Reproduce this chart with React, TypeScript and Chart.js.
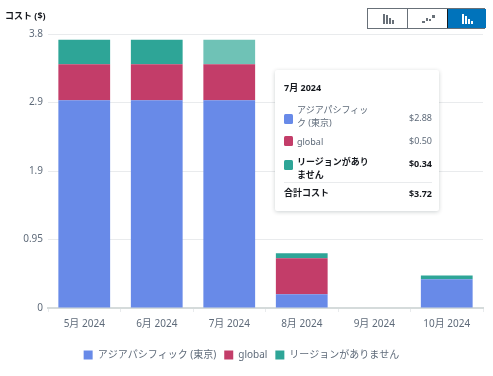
import React, { useEffect, useRef } from "react";
import { Chart, registerables } from "chart.js";

Chart.register(...registerables);

const categories = ["5月 2024", "6月 2024", "7月 2024", "8月 2024", "9月 2024", "10月 2024"];
const apacValues = [2.88, 2.88, 2.88, 0.19, 0, 0.4];
const globalValues = [0.5, 0.5, 0.5, 0.5, 0, 0];
const noRegionValues = [0.34, 0.34, 0.34, 0.07, 0, 0.05];
const seriesNames = ["アジアパシフィック (東京)", "global", "リージョンがありません"];
const yTickValues = [0, 0.95, 1.9, 2.85, 3.8];
const yTickLabels = ["0", "0.95", "1.9", "2.9", "3.8"];
const tooltipTitle = "7月 2024";
const tooltipValues = ["$2.88", "$0.50", "$0.34"];
const tooltipTotalLabel = "合計コスト";
const tooltipTotal = "$3.72";
const axisTitle = "コスト ($)";

const FONT = '"Noto Sans", "Noto Sans CJK JP", sans-serif';
const BLUE = "#688ae8";
const RED = "#c33d69";
const GREEN = "#2ea597";
const GREEN_FADED = "#6fc2b6";
const TEXT = "#5f6b7a";
const DARK = "#16191f";

const abs = (left: number, top: number, extra: React.CSSProperties = {}): React.CSSProperties => ({
  position: "absolute",
  left,
  top,
  ...extra,
});

function Swatch({ top, color }: { top: number; color: string }) {
  return <div style={abs(9, top, { width: 9, height: 10, background: color, borderRadius: 1.5 })} />;
}

export default function App() {
  const ref = useRef<HTMLCanvasElement | null>(null);

  useEffect(() => {
    const chart = new Chart(ref.current!, {
      type: "bar",
      data: {
        labels: categories,
        datasets: [
          { label: seriesNames[0], data: apacValues, backgroundColor: BLUE },
          { label: seriesNames[1], data: globalValues, backgroundColor: RED },
          {
            label: seriesNames[2],
            data: noRegionValues,
            backgroundColor: categories.map((_, i) => (i === 2 ? GREEN_FADED : GREEN)),
          },
        ],
      },
      options: {
        animation: false,
        responsive: false,
        events: [],
        layout: { padding: { top: 34, right: 10, bottom: 6, left: 0 } },
        datasets: { bar: { categoryPercentage: 1, barPercentage: 0.714 } },
        scales: {
          x: {
            stacked: true,
            afterFit: (s: any) => { s.height = 34; },
            border: { color: "#d5dbdb", width: 2 },
            grid: { drawOnChartArea: false, drawTicks: true, tickLength: 4, color: "#e9ebed" },
            ticks: { color: TEXT, font: { family: FONT, size: 10 }, padding: 6, maxRotation: 0 },
          },
          y: {
            stacked: true,
            min: 0,
            max: 3.8,
            afterFit: (s: any) => { s.width = 48; },
            afterBuildTicks: (s: any) => { s.ticks = yTickValues.map((value) => ({ value })); },
            border: { display: false },
            grid: { color: "#e9ebed", drawTicks: false, lineWidth: 1 },
            ticks: {
              color: TEXT,
              font: { family: FONT, size: 10 },
              padding: 5,
              callback: (v: any) => yTickLabels[yTickValues.indexOf(v)],
            },
          },
        },
        plugins: {
          tooltip: { enabled: false },
          title: { display: false },
          legend: {
            position: "bottom",
            labels: {
              boxWidth: 9,
              boxHeight: 9,
              color: TEXT,
              padding: 8,
              font: { family: FONT, size: 10 },
            },
          },
        },
      },
    } as any);
    return () => chart.destroy();
  }, []);

  const row: React.CSSProperties = { fontSize: 9, lineHeight: "13px" };
  return (
    <div style={abs(0, 0, { width: 493, height: 376, background: "#fff", fontFamily: FONT, overflow: "hidden" })}>
      <canvas ref={ref} width={493} height={376} style={{ display: "block" }} />
      <div style={abs(5, 9, { fontSize: 9, fontWeight: 700, color: DARK, lineHeight: "13px" })}>{axisTitle}</div>

      <div style={abs(367, 8, { width: 118, height: 21, boxSizing: "border-box", border: "1px solid #687078", display: "flex" })}>
        <div style={{ flex: "0 0 39px", borderRight: "1px solid #687078" }}>
          <svg width="39" height="19" fill="#687078">
            <rect x="15" y="5" width="2" height="10" /><rect x="18" y="6" width="2" height="9" />
            <rect x="21" y="9" width="2" height="6" /><rect x="24" y="11" width="2" height="4" />
          </svg>
        </div>
        <div style={{ flex: "0 0 39px", borderRight: "1px solid #16191f" }}>
          <svg width="39" height="19" fill="#687078">
            <rect x="14" y="12" width="3" height="2" /><rect x="18" y="9" width="2" height="3" />
            <rect x="21" y="10" width="2" height="2" /><rect x="24" y="6" width="3" height="3" />
          </svg>
        </div>
        <div style={{ flex: 1, background: "#0073bb" }}>
          <svg width="38" height="19" fill="#fff">
            <rect x="14" y="5" width="2" height="10" /><rect x="17" y="7" width="2" height="8" />
            <rect x="20" y="10" width="2" height="5" /><rect x="23" y="12" width="2" height="3" />
          </svg>
        </div>
      </div>

      <div style={abs(275, 70, { width: 164, height: 141, background: "#fff", borderRadius: 2, boxShadow: "0 1px 4px rgba(0,28,36,0.2)", color: DARK })}>
        <div style={abs(9, 11, { fontSize: 9, fontWeight: 700, lineHeight: "14px" })}>{tooltipTitle}</div>
        <Swatch top: number={0 as any} top={44} color={BLUE} />
        <div style={abs(22, 33, { ...row, width: 78, color: TEXT })}>{seriesNames[0]}</div>
        <div style={abs(100, 41, { ...row, width: 57, textAlign: "right", color: TEXT })}>{tooltipValues[0]}</div>
        <Swatch top={66} color={RED} />
        <div style={abs(22, 65, { ...row, color: TEXT })}>{seriesNames[1]}</div>
        <div style={abs(100, 64, { ...row, width: 57, textAlign: "right", color: TEXT })}>{tooltipValues[1]}</div>
        <Swatch top={90} color={GREEN} />
        <div style={abs(22, 85, { ...row, width: 78, fontWeight: 700 })}>{seriesNames[2]}</div>
        <div style={abs(100, 87, { ...row, width: 57, textAlign: "right", fontWeight: 700 })}>{tooltipValues[2]}</div>
        <div style={abs(9, 112, { width: 148, height: 1, background: "#e9ebed" })} />
        <div style={abs(9, 116, { ...row, fontWeight: 700 })}>{tooltipTotalLabel}</div>
        <div style={abs(100, 117, { ...row, width: 57, textAlign: "right", fontWeight: 700 })}>{tooltipTotal}</div>
      </div>
    </div>
  );
}
